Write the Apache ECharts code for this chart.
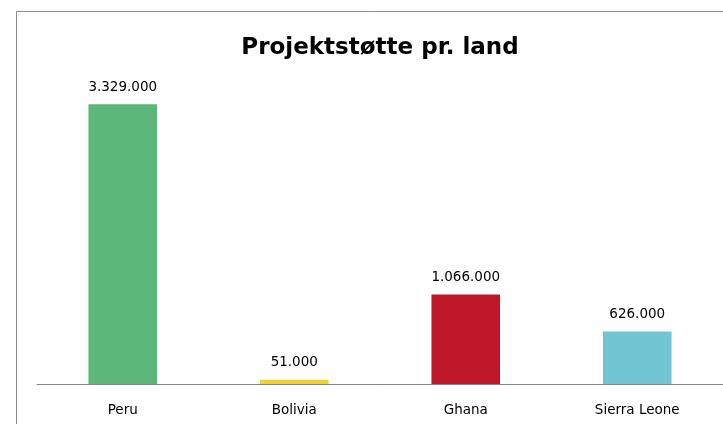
<!DOCTYPE html>
<html>
<head>
<meta charset="utf-8">
<script src="https://cdn.jsdelivr.net/npm/echarts@6/dist/echarts.min.js"></script>
<style>
  html, body { margin: 0; padding: 0; background: #fff; }
  #chart { width: 723px; height: 424px; }
</style>
</head>
<body>
<div id="chart"></div>
<script>
var countries = ['Peru', 'Bolivia', 'Ghana', 'Sierra Leone'];
var amounts = [3329000, 51000, 1066000, 626000];
var barColors = ['#5cb77a', '#f2d22e', '#c0162a', '#72c6d4'];

var chart = echarts.init(document.getElementById('chart'));

function fmt(v) {
    return String(v).replace(/\B(?=(\d{3})+(?!\d))/g, '.');
}

var option = {
    backgroundColor: '#fff',
    animation: false,
    title: {
        text: 'Projektstøtte pr. land',
        left: 375,
        textAlign: 'center',
        top: 32,
        textStyle: {
            fontFamily: 'DejaVu Sans',
            fontWeight: 'bold',
            fontSize: 23,
            color: '#000'
        }
    },
    graphic: [{
        type: 'rect',
        shape: { x: 16.5, y: 11.5, width: 720, height: 420 },
        style: { fill: 'none', stroke: '#8c8c8c', lineWidth: 1 },
        silent: true
    }],
    grid: {
        left: 37,
        right: -2,
        top: 48,
        bottom: 40
    },
    xAxis: {
        type: 'category',
        data: countries,
        axisLine: { lineStyle: { color: '#888', width: 1 } },
        axisTick: { show: false },
        axisLabel: {
            color: '#000',
            fontFamily: 'DejaVu Sans',
            fontSize: 13.5,
            margin: 19
        }
    },
    yAxis: {
        type: 'value',
        min: 0,
        max: 4000000,
        show: false,
        splitLine: { show: false }
    },
    series: [{
        type: 'bar',
        barWidth: '40%',
        data: amounts.map(function (v, i) {
            return { value: v, itemStyle: { color: barColors[i] } };
        }),
        label: {
            show: true,
            position: 'top',
            distance: 10,
            color: '#000',
            fontFamily: 'DejaVu Sans',
            fontSize: 13.5,
            formatter: function (p) { return fmt(p.value); }
        }
    }]
};

chart.setOption(option);
</script>
</body>
</html>
